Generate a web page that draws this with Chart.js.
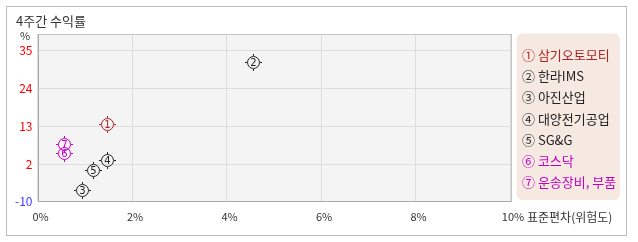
<!DOCTYPE html>
<html>
<head>
<meta charset="utf-8">
<script src="https://cdn.jsdelivr.net/npm/chart.js@4.4.1/dist/chart.umd.min.js"></script>
<style>
html, body { margin: 0; padding: 0; background: #fff; }
</style>
</head>
<body>
<canvas id="myChart" width="638" height="242"></canvas>
<script>
var chartTitle = '4주간 수익률';
var xTitle = '표준편차(위험도)';
var marks = ['①', '②', '③', '④', '⑤', '⑥', '⑦'];
var names = ['삼기오토모티', '한라IMS', '아진산업', '대양전기공업', 'SG&G', '코스닥', '운송장비, 부품'];
var risk = [1.48, 4.57, 0.95, 1.47, 1.17, 0.57, 0.57];      // 표준편차 %
var returns = [13.6, 31.5, -5.5, 3.2, 0.45, 5.4, 7.8];      // 4주간 수익률 %
var xTicks = [0, 2, 4, 6, 8, 10];
var yTicks = [-10, 2, 13, 24, 35];
var yMin = -8.6, yMax = 39.7;

var colors = ['#b22222', '#222222', '#222222', '#222222', '#222222', '#c000c0', '#c000c0'];
var FONT = '"Noto Sans CJK KR", sans-serif';

var datasets = names.map(function(n, i) {
    return {
        label: n,
        data: [{ x: risk[i], y: returns[i] }],
        pointRadius: 0,
        pointHoverRadius: 0
    };
});

// circle marker with small ticks and the number inside
function drawMarker(g, x, y, num, color) {
    x = Math.round(x); y = Math.round(y);
    g.strokeStyle = color;
    g.fillStyle = color;
    g.lineWidth = 1;
    g.beginPath();
    g.arc(x + 0.5, y + 0.5, 6, 0, Math.PI * 2);
    g.stroke();
    g.fillRect(x, y - 8, 1, 2);
    g.fillRect(x, y + 7, 1, 2);
    g.fillRect(x - 8, y, 2, 1);
    g.fillRect(x + 7, y, 2, 1);
    g.font = '10px "DejaVu Sans"';
    g.textAlign = 'center';
    g.textBaseline = 'middle';
    g.fillText(num, x + 0.5, y + 1);
}

var decor = {
    id: 'decor',
    beforeDraw: function(chart) {
        var g = chart.ctx, a = chart.chartArea;
        g.save();
        g.fillStyle = '#fff';
        g.fillRect(0, 0, chart.width, chart.height);
        g.strokeStyle = '#bbbbbb';
        g.lineWidth = 1;
        g.strokeRect(6.5, 6.5, 620, 229);
        g.fillStyle = '#f4f4f4';
        g.fillRect(a.left, a.top, a.right - a.left, a.bottom - a.top);

        g.fillStyle = '#333';
        g.font = '13px ' + FONT;
        g.textAlign = 'left';
        g.textBaseline = 'middle';
        g.fillText(chartTitle, 16, 21);
        g.font = '11px ' + FONT;
        g.textAlign = 'center';
        g.fillText('%', 25, 36);
        g.restore();
    },
    beforeDatasetsDraw: function(chart) {
        var g = chart.ctx, a = chart.chartArea;
        g.save();
        g.strokeStyle = '#c4c4c4';
        g.lineWidth = 1;
        g.strokeRect(Math.round(a.left) + 0.5, Math.round(a.top) + 0.5,
            Math.round(a.right - a.left), Math.round(a.bottom - a.top));
        g.strokeStyle = '#aaaaaa';
        g.beginPath();
        g.moveTo(Math.round(a.left) + 0.5, Math.round(a.top));
        g.lineTo(Math.round(a.left) + 0.5, Math.round(a.bottom) + 0.5);
        g.lineTo(Math.round(a.right) + 1, Math.round(a.bottom) + 0.5);
        g.stroke();
        g.restore();
    },
    afterDatasetsDraw: function(chart) {
        var g = chart.ctx;
        g.save();
        // last dataset first so that dataset 0 ends up on top
        for (var i = chart.data.datasets.length - 1; i >= 0; i--) {
            chart.getDatasetMeta(i).data.forEach(function(pt) {
                drawMarker(g, pt.x, pt.y, String(i + 1), colors[i]);
            });
        }
        g.restore();
    },
    afterDraw: function(chart) {
        var g = chart.ctx;
        var xs = chart.scales.x;
        g.save();
        // x axis title after the last tick label
        g.fillStyle = '#333';
        g.font = '12px ' + FONT;
        g.textAlign = 'left';
        g.textBaseline = 'middle';
        g.fillText(xTitle, xs.getPixelForValue(10) + 17, 217);

        // legend box
        var bx = 516.5, by = 33.5, bw = 103.5, bh = 166.5, r = 6;
        g.fillStyle = '#f5e9e2';
        g.beginPath();
        g.moveTo(bx + r, by);
        g.arcTo(bx + bw, by, bx + bw, by + bh, r);
        g.arcTo(bx + bw, by + bh, bx, by + bh, r);
        g.arcTo(bx, by + bh, bx, by, r);
        g.arcTo(bx, by, bx + bw, by, r);
        g.closePath();
        g.fill();

        g.font = '13px ' + FONT;
        chart.data.datasets.forEach(function(ds, i) {
            g.fillStyle = colors[i];
            g.fillText(marks[i] + ' ' + ds.label, 522, 55 + i * 21.2);
        });
        g.restore();
    }
};

var ctx = document.getElementById('myChart').getContext('2d');
var myChart = new Chart(ctx, {
    type: 'scatter',
    data: { datasets: datasets },
    options: {
        responsive: false,
        animation: false,
        layout: { padding: { left: 0, top: 34, right: 128, bottom: 0 } },
        plugins: {
            legend: { display: false },
            tooltip: { enabled: false }
        },
        scales: {
            x: {
                type: 'linear',
                min: 0,
                max: 10,
                afterBuildTicks: function(s) { s.ticks = xTicks.map(function(v) { return { value: v }; }); },
                afterFit: function(s) { s.height = 41; },
                border: { display: false },
                grid: { color: '#dddddd', drawTicks: false },
                ticks: {
                    callback: function(v) { return v + '%'; },
                    color: '#333',
                    font: { family: FONT, size: 11 },
                    padding: 9,
                    labelOffset: 3,
                    maxRotation: 0,
                    autoSkip: false
                }
            },
            y: {
                type: 'linear',
                min: yMin,
                max: yMax,
                afterBuildTicks: function(s) { s.ticks = yTicks.map(function(v) { return { value: Math.max(v, yMin) }; }); },
                afterFit: function(s) { s.width = 37.5; },
                border: { display: false },
                grid: { color: '#dddddd', drawTicks: false },
                ticks: {
                    callback: function(v, i) { return yTicks[i]; },
                    color: function(c) { return c.index === 0 ? '#3c3cff' : '#ff0000'; },
                    font: { family: FONT, size: 12 },
                    padding: 5
                }
            }
        }
    },
    plugins: [decor]
});
</script>
</body>
</html>
